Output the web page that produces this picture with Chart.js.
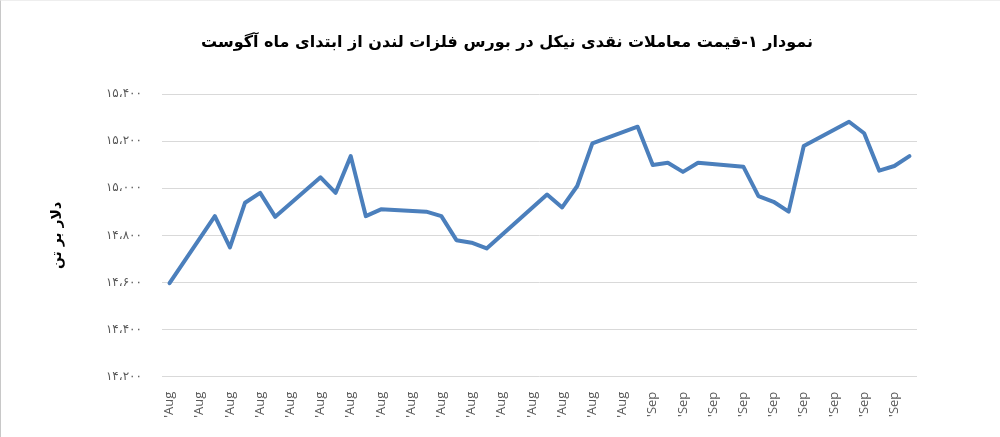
<!DOCTYPE html>
<html lang="fa">
<head>
<meta charset="utf-8">
<title>نمودار ۱</title>
<script src="https://cdn.jsdelivr.net/npm/chart.js@4.4.1/dist/chart.umd.min.js"></script>
<style>
  html, body { margin: 0; padding: 0; background: #fff; }
  #wrap { position: relative; width: 1000px; height: 437px; }
  #wrap::after {
    content: ""; position: absolute; left: 0; top: 0; right: 0; bottom: 0;
    border-left: 1px solid #c8c8c8; border-top: 1px solid #eeeeee;
    pointer-events: none;
  }
  canvas { display: block; }
</style>
</head>
<body>
<div id="wrap"><canvas id="chart" width="1000" height="437"></canvas></div>
<script>
const $ = id => document.getElementById(id);

// one entry per calendar day, 1 Aug .. 19 Sep; weekends / holiday have no price
const augDays = Array(31).fill("'Aug");
const sepDays = Array(19).fill("'Sep");
const dayLabels = augDays.concat(sepDays);

// LME nickel cash price, $/t
const cashPrice = [
  14597, null, null, 14882, 14749, 14939, 14981, 14879, null, null,
  15047, 14981, 15137, 14882, 14911, null, null, 14901, 14882, 14780,
  14769, 14745, null, null, null, 14974, 14919, 15010, 15191, null,
  null, 15262, 15099, 15109, 15070, 15109, null, null, 15092, 14967,
  14943, 14901, 15180, null, null, 15283, 15234, 15075, 15095, 15137
];

const yTicks = [14200, 14400, 14600, 14800, 15000, 15200, 15400];

const chartTitle = "نمودار ۱-قیمت معاملات نقدی نیکل در بورس فلزات لندن از ابتدای ماه آگوست";
const yTitle = "دلار بر تن";

const faDigits = "۰۱۲۳۴۵۶۷۸۹";
const toFa = n => n.toLocaleString("en-US").replace(/\d/g, d => faDigits[d]).replace(/,/g, "،");

new Chart($("chart"), {
  type: "line",
  data: {
    labels: dayLabels,
    datasets: [{
      data: cashPrice,
      borderColor: "#4b7fbc",
      borderWidth: 4,
      borderJoinStyle: "round",
      borderCapStyle: "round",
      pointRadius: 0,
      tension: 0,
      spanGaps: true,
      yAxisID: "y"
    }]
  },
  options: {
    responsive: false,
    animation: false,
    layout: { padding: { left: 14, right: 0, top: 0, bottom: 0 } },
    plugins: {
      legend: { display: false },
      tooltip: { enabled: false },
      title: {
        display: true,
        text: chartTitle,
        color: "#000",
        font: { family: "DejaVu Sans", size: 16, weight: "bold", lineHeight: 1.2 },
        padding: { top: 33, bottom: 42 }
      }
    },
    scales: {
      x: {
        offset: true,
        grid: { display: false, drawTicks: false },
        border: { display: false },
        ticks: {
          autoSkip: false,
          maxRotation: 90,
          minRotation: 90,
          padding: 15,
          color: "#595959",
          font: { family: "Open Sans", size: 13 },
          callback: (v, i) => (i % 2 === 0 ? dayLabels[i] : null)
        },
        afterFit: s => { s.height = 60.3; }
      },
      y: {
        min: yTicks[0],
        max: yTicks[yTicks.length - 1],
        afterBuildTicks: s => { s.ticks = yTicks.map(v => ({ value: v })); },
        grid: { color: "#d9d9d9", lineWidth: 1, drawTicks: false },
        border: { display: false },
        ticks: {
          padding: 20,
          color: "#595959",
          font: { family: "DejaVu Sans", size: 12 },
          callback: v => toFa(v)
        },
        title: {
          display: true,
          text: yTitle,
          color: "#000",
          font: { family: "DejaVu Sans", size: 14, weight: "bold", lineHeight: 1.2 },
          padding: { top: 35, bottom: 0 }
        },
        afterFit: s => { s.width = 148; }
      },
      yRight: {
        position: "right",
        display: true,
        grid: { display: false, drawTicks: false },
        border: { display: false },
        ticks: { display: false },
        afterFit: s => { s.width = 83; }
      }
    }
  }
});
</script>
</body>
</html>
